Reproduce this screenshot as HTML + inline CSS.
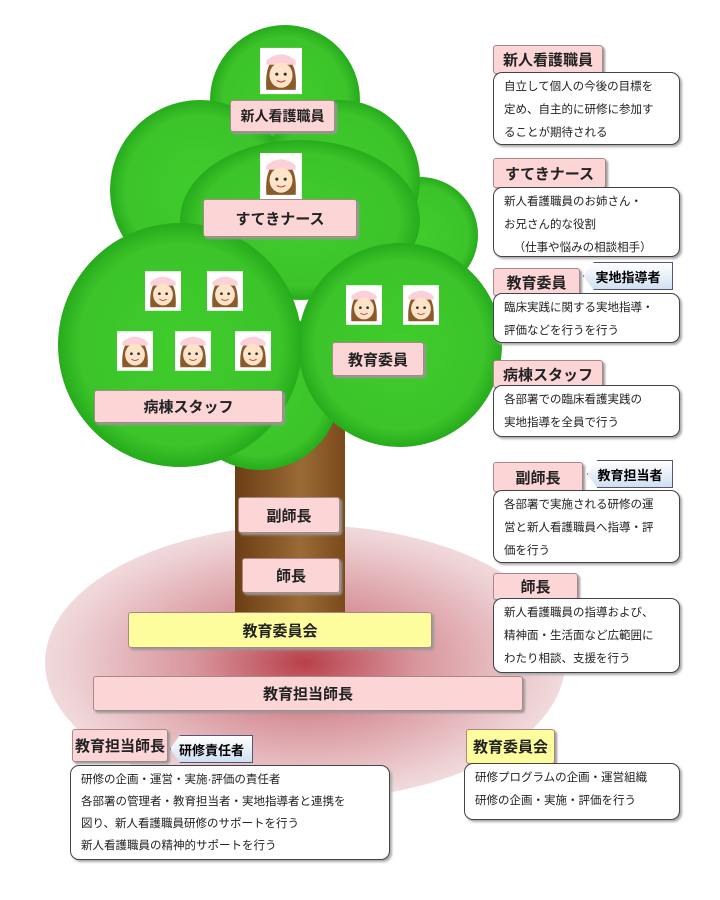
<!DOCTYPE html>
<html><head><meta charset="utf-8"><style>
body{margin:0;width:720px;height:900px;background:#fff;position:relative;overflow:hidden;font-family:"Liberation Sans","Noto Sans CJK JP",sans-serif;}
.a{position:absolute;box-sizing:border-box;}
.lb{background:#fcd5d7;border:1px solid #a88;border-radius:3px;font-weight:bold;font-size:15px;color:#222;display:flex;align-items:center;justify-content:center;box-shadow:2px 2px 2px #999;}
.yl{background:#fdfd9d;}
.bx{background:#fff;border:1.5px solid #444;border-radius:9px;font-size:11.5px;line-height:23px;padding:3px 10px;color:#222;box-shadow:2px 2px 2px #aaa;}
.tag{background:linear-gradient(#fff,#cfe0f2);border:1px solid #557;font-weight:bold;font-size:13px;display:flex;align-items:center;justify-content:center;clip-path:polygon(12% 0,100% 0,100% 100%,12% 100%,0 50%);}
.f{position:absolute;}
</style></head><body>
<div class="a" style="left:45px;top:525px;width:520px;height:275px;border-radius:50%;background:radial-gradient(ellipse at center,#b8404a 0%,#d8959c 30%,#eed2d5 65%,rgba(255,255,255,0) 100%);"></div>
<div class="a" style="left:235px;top:410px;width:110px;height:210px;background:linear-gradient(90deg,#6b3e14,#9a6a36 60%,#7a4a1c);"></div>
<svg class="a" style="left:0;top:0" width="720" height="520">
<defs><radialGradient id="g" cx="50%" cy="50%" r="55%"><stop offset="0" stop-color="#40cc2c"/><stop offset="0.75" stop-color="#3cc42a"/><stop offset="1" stop-color="#1a9e14"/></radialGradient></defs>
<circle cx="420" cy="235" r="58" fill="url(#g)"/>
<circle cx="285" cy="100" r="75" fill="url(#g)"/>
<circle cx="200" cy="190" r="90" fill="url(#g)"/>
<circle cx="340" cy="180" r="80" fill="url(#g)"/>
<ellipse cx="300" cy="220" rx="120" ry="80" fill="url(#g)"/>
<circle cx="260" cy="390" r="80" fill="url(#g)"/>
<circle cx="400" cy="345" r="102" fill="url(#g)"/>
<circle cx="180" cy="345" r="122" fill="url(#g)"/>
</svg>
<svg width="0" height="0" style="position:absolute"><defs><g id="fc"><rect width="40" height="44" fill="#fff"/><path d="M6 40 Q4 10 20 8 Q36 10 34 40Z" fill="#8a5a2a"/><path d="M6 12 Q20 0 34 12 L34 16 L6 16Z" fill="#fbd0d8"/><ellipse cx="20" cy="26" rx="11" ry="12" fill="#fde4c8"/><circle cx="16" cy="25" r="1.5" fill="#333"/><circle cx="24" cy="25" r="1.5" fill="#333"/><path d="M16 31 Q20 34 24 31" stroke="#c33" fill="none"/></g></defs></svg>
<svg class="f" style="left:260px;top:47px" width="42" height="48" viewBox="0 0 40 44"><use href="#fc"/></svg>
<svg class="f" style="left:260px;top:153px" width="42" height="46" viewBox="0 0 40 44"><use href="#fc"/></svg>
<svg class="f" style="left:145px;top:270px" width="36" height="42" viewBox="0 0 40 44"><use href="#fc"/></svg>
<svg class="f" style="left:207px;top:270px" width="36" height="42" viewBox="0 0 40 44"><use href="#fc"/></svg>
<svg class="f" style="left:117px;top:330px" width="36" height="42" viewBox="0 0 40 44"><use href="#fc"/></svg>
<svg class="f" style="left:175px;top:330px" width="36" height="42" viewBox="0 0 40 44"><use href="#fc"/></svg>
<svg class="f" style="left:235px;top:330px" width="36" height="42" viewBox="0 0 40 44"><use href="#fc"/></svg>
<svg class="f" style="left:346px;top:284px" width="36" height="42" viewBox="0 0 40 44"><use href="#fc"/></svg>
<svg class="f" style="left:403px;top:284px" width="36" height="42" viewBox="0 0 40 44"><use href="#fc"/></svg>

<div class="a lb" style="left:230px;top:100px;width:105px;height:32px;font-size:14px">新人看護職員</div>
<div class="a lb" style="left:203px;top:199px;width:154px;height:38px">すてきナース</div>
<div class="a lb" style="left:332px;top:342px;width:92px;height:34px">教育委員</div>
<div class="a lb" style="left:94px;top:390px;width:189px;height:33px">病棟スタッフ</div>
<div class="a lb" style="left:238px;top:497px;width:102px;height:36px">副師長</div>
<div class="a lb" style="left:242px;top:558px;width:98px;height:35px">師長</div>
<div class="a lb yl" style="left:128px;top:612px;width:304px;height:36px">教育委員会</div>
<div class="a lb" style="left:93px;top:676px;width:430px;height:35px">教育担当師長</div>

<div class="a lb" style="left:493px;top:45px;width:110px;height:29px">新人看護職員</div>
<div class="a bx" style="left:493px;top:72px;width:187px;height:73px">自立して個人の今後の目標を<br>定め、自主的に研修に参加す<br>ることが期待される</div>
<div class="a lb" style="left:493px;top:158px;width:113px;height:30px">すてきナース</div>
<div class="a bx" style="left:493px;top:187px;width:187px;height:70px">新人看護職員のお姉さん・<br>お兄さん的な役割<br>&nbsp;&nbsp;&nbsp;（仕事や悩みの相談相手）</div>
<div class="a lb" style="left:493px;top:268px;width:87px;height:28px">教育委員</div>
<div class="a tag" style="left:583px;top:262px;width:90px;height:28px">実地指導者</div>
<div class="a bx" style="left:493px;top:293px;width:187px;height:50px">臨床実践に関する実地指導・<br>評価などを行うを行う</div>
<div class="a lb" style="left:493px;top:360px;width:110px;height:28px">病棟スタッフ</div>
<div class="a bx" style="left:493px;top:385px;width:187px;height:52px">各部署での臨床看護実践の<br>実地指導を全員で行う</div>
<div class="a lb" style="left:493px;top:462px;width:90px;height:30px">副師長</div>
<div class="a tag" style="left:587px;top:460px;width:86px;height:28px">教育担当者</div>
<div class="a bx" style="left:493px;top:490px;width:187px;height:73px">各部署で実施される研修の運<br>営と新人看護職員へ指導・評<br>価を行う</div>
<div class="a lb" style="left:493px;top:573px;width:85px;height:27px">師長</div>
<div class="a bx" style="left:493px;top:598px;width:187px;height:75px">新人看護職員の指導および、<br>精神面・生活面など広範囲に<br>わたり相談、支援を行う</div>

<div class="a lb" style="left:72px;top:729px;width:96px;height:33px">教育担当師長</div>
<div class="a tag" style="left:170px;top:735px;width:83px;height:28px">研修責任者</div>
<div class="a bx" style="left:70px;top:765px;width:320px;height:95px;line-height:22px">研修の企画・運営・実施·評価の責任者<br>各部署の管理者・教育担当者・実地指導者と連携を<br>図り、新人看護職員研修のサポートを行う<br>新人看護職員の精神的サポートを行う</div>
<div class="a lb yl" style="left:466px;top:729px;width:89px;height:35px">教育委員会</div>
<div class="a bx" style="left:464px;top:763px;width:216px;height:57px">研修プログラムの企画・運営組織<br>研修の企画・実施・評価を行う</div>
</body></html>
